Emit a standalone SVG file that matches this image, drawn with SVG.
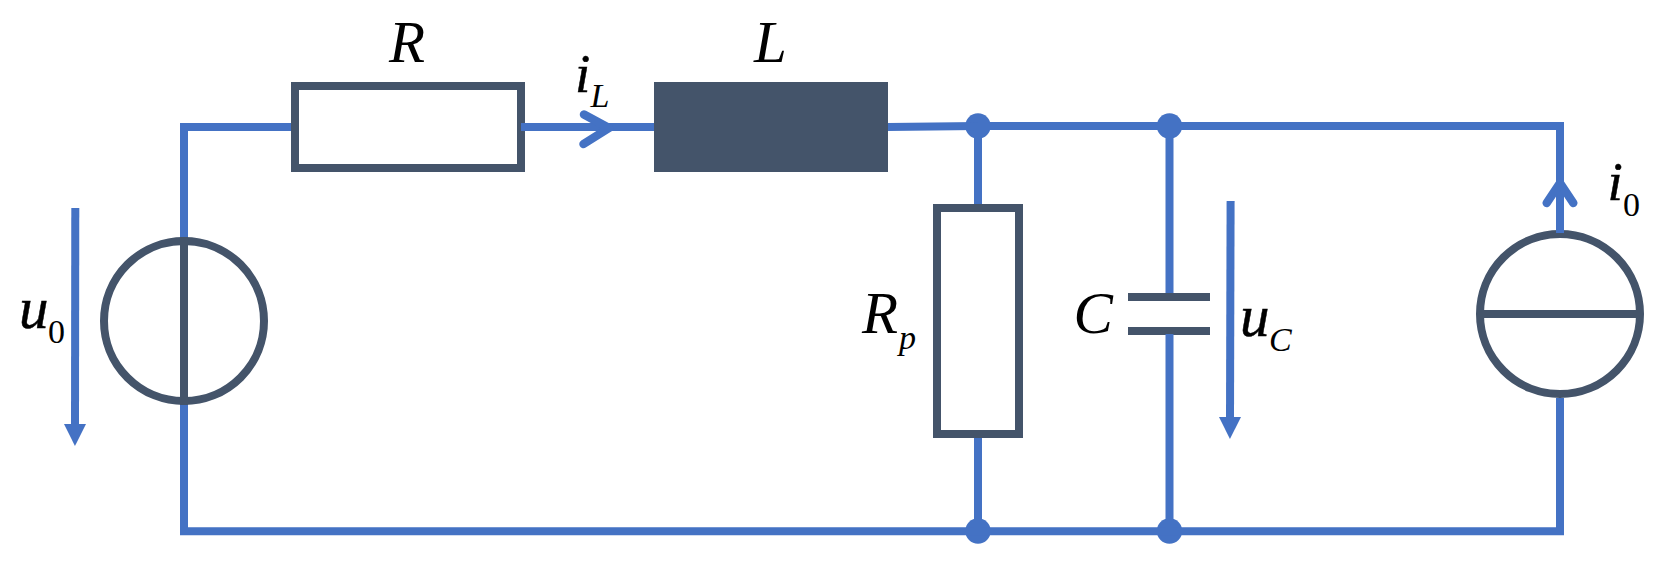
<svg xmlns="http://www.w3.org/2000/svg" width="1672" height="571" viewBox="0 0 1672 571">
<style>
.wire{fill:none;stroke:#4472c4;stroke-width:8;stroke-linejoin:miter}
.chev{fill:none;stroke:#4472c4;stroke-width:8.5;stroke-linecap:round;stroke-linejoin:round}
.part{fill:#fff;stroke:#44546a;stroke-width:8}
.bar{fill:none;stroke:#44546a;stroke-width:8}
.dot{fill:#4472c4}
text{font-family:"Liberation Serif","Times New Roman",serif;font-style:italic;font-size:59px;fill:#000}
.heavy{stroke:#000;stroke-width:0.5}
.ii{font-size:55px}
.sub{font-size:34px;stroke:none}
.up{font-size:34px;font-style:normal;stroke:none}
</style>
<defs>
<marker id="tri" markerUnits="userSpaceOnUse" markerWidth="22" markerHeight="22" refX="0" refY="11" orient="auto">
<path d="M0,0L22,11L0,22Z" fill="#4472c4"/>
</marker>
</defs>
<rect width="1672" height="571" fill="#fff"/>
<g id="node-R">
<rect class="part" x="295" y="86" width="226" height="82"/>
<text x="389" y="62">R</text>
</g>
<g id="node-L">
<rect x="654" y="82" width="234" height="90" fill="#44546a"/>
<text x="754" y="62">L</text>
</g>
<g id="node-Rp">
<rect class="part" x="937" y="208" width="82" height="226"/>
<text x="862" y="333">R<tspan class="sub" x="899" y="348.5">p</tspan></text>
</g>
<g id="node-C">
<path class="bar" d="M1128,297H1210M1128,331H1210"/>
<text x="1073.5" y="333">C</text>
</g>
<g id="node-u0">
<circle class="part" cx="184" cy="321" r="80"/>
<path class="bar" d="M184,237V405"/>
</g>
<g id="node-i0">
<circle class="part" cx="1560" cy="314" r="80"/>
<path class="bar" d="M1480,314H1640"/>
</g>
<g id="node-j1"><circle class="dot" cx="978" cy="126" r="12.7"/></g>
<g id="node-j2"><circle class="dot" cx="1169.5" cy="126" r="12.7"/></g>
<g id="node-j3"><circle class="dot" cx="978" cy="531" r="12.7"/></g>
<g id="node-j4"><circle class="dot" cx="1169.5" cy="531" r="12.7"/></g>
<g id="connectors">
<path class="wire" d="M291,127H184V237"/>
<path class="wire" d="M184,405V531.3H1560V398"/>
<path class="wire" d="M521,127H654"/>
<path class="wire" d="M888,127L978,126H1560V233"/>
<path class="wire" d="M978,126V204M978,438V531"/>
<path class="wire" d="M1169.5,126V293M1169.5,334V531"/>
<path class="chev" d="M584,114.5L609,128L583.5,144"/>
<path class="chev" d="M1546.7,203L1560,183L1573.3,203"/>
<path class="wire" d="M75.3,208L75,424" marker-end="url(#tri)"/>
<path class="wire" d="M1230.6,201L1230,417" marker-end="url(#tri)"/>
</g>
<g id="labels">
<text class="heavy" x="19" y="328">u<tspan class="up" x="48" y="343">0</tspan></text>
<text class="heavy ii" x="575" y="92">i<tspan class="sub" x="590.5" y="107">L</tspan></text>
<text class="heavy" x="1240" y="336">u<tspan class="sub" x="1269" y="350.5">C</tspan></text>
<text class="heavy ii" x="1607.5" y="200">i<tspan class="up" x="1623" y="215.5">0</tspan></text>
</g>
</svg>
